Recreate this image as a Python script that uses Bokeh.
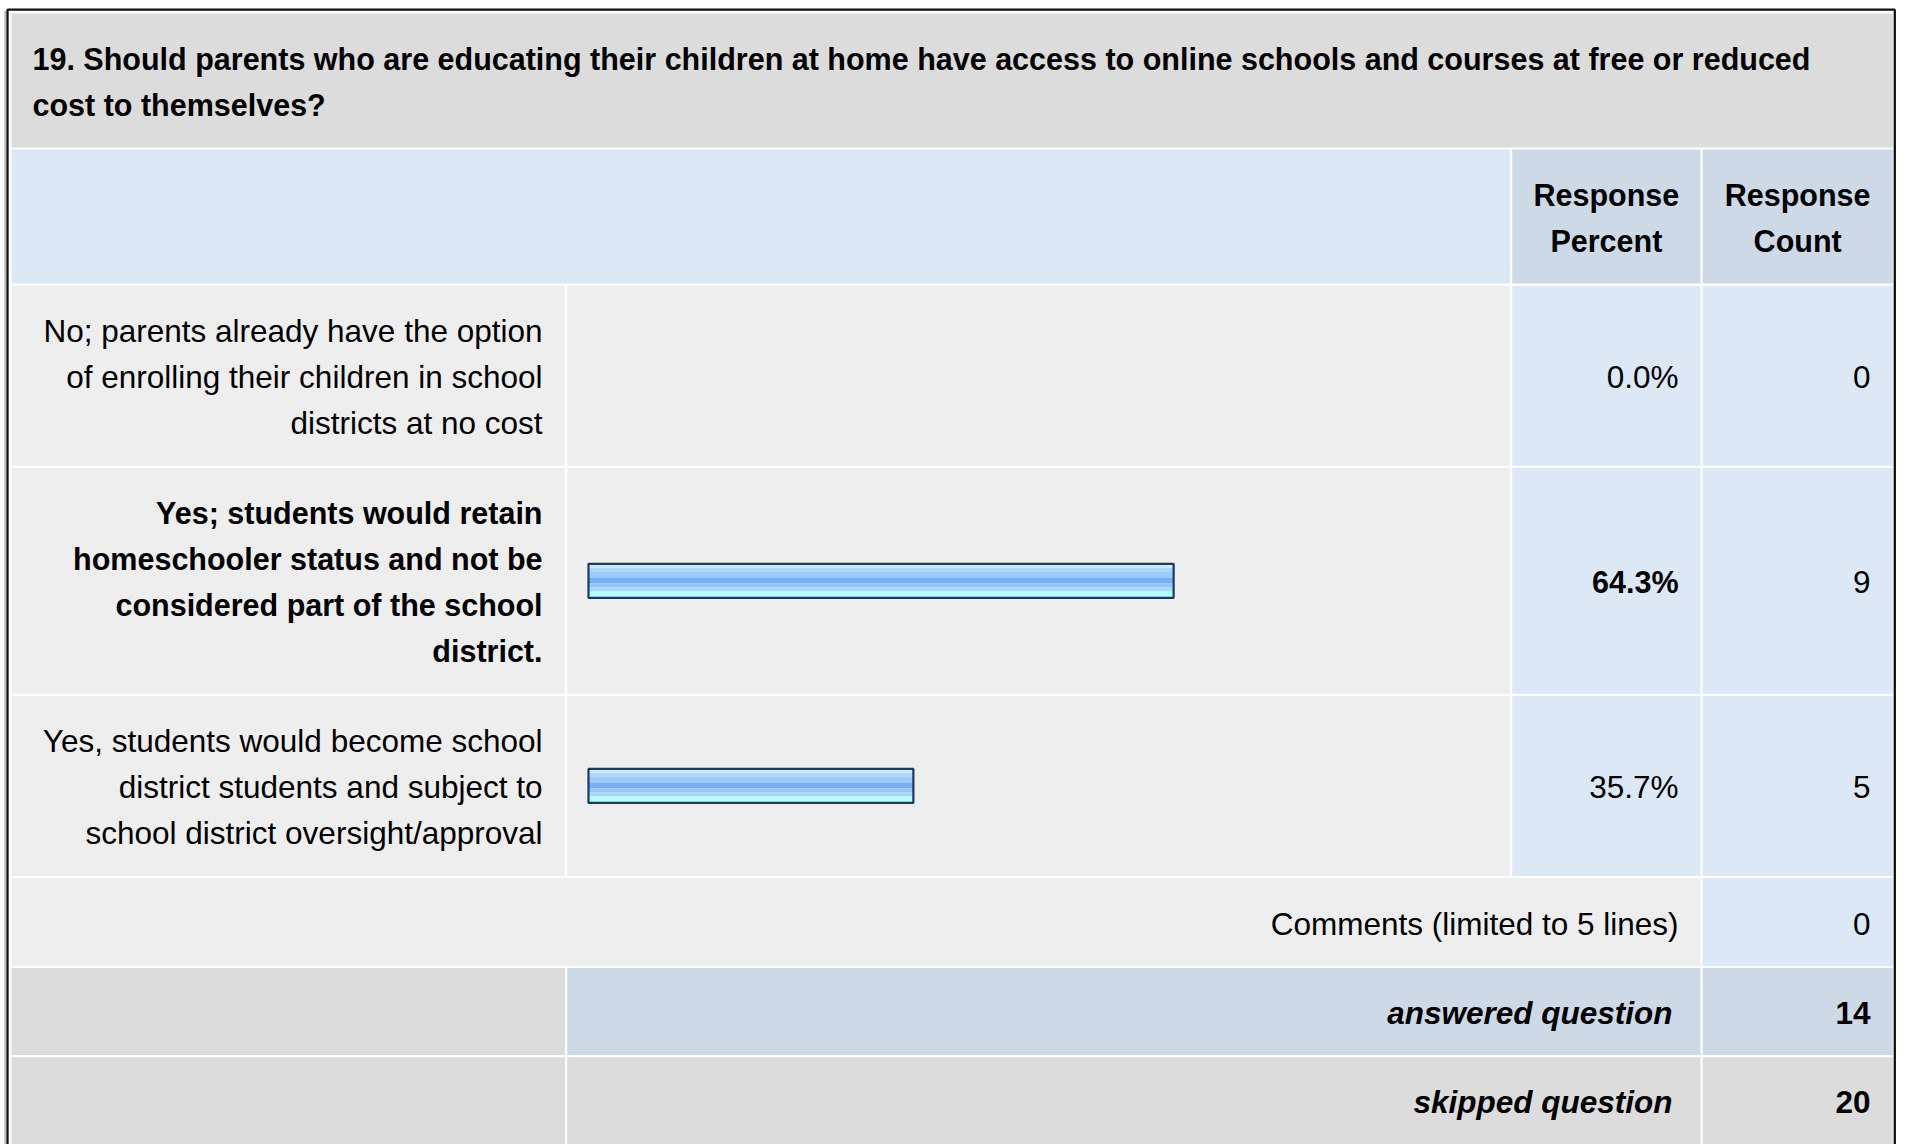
from bokeh.plotting import figure
from bokeh.models import Range1d, ColumnDataSource
from bokeh.core.properties import value
from bokeh.embed import file_html
from bokeh.resources import INLINE

# ---------------- data ----------------
question_lines = [
    "19. Should parents who are educating their children at home have access to online schools and courses at free or reduced",
    "cost to themselves?",
]
header_percent = ["Response", "Percent"]
header_count = ["Response", "Count"]
answer_choices = [
    ["No; parents already have the option", "of enrolling their children in school", "districts at no cost"],
    ["Yes; students would retain", "homeschooler status and not be", "considered part of the school", "district."],
    ["Yes, students would become school", "district students and subject to", "school district oversight/approval"],
]
response_percent = [0.0, 64.3, 35.7]
response_count = [0, 9, 5]
comments_label = "Comments (limited to 5 lines)"
comments_count = 0
answered_label = "answered question"
answered_count = 14
skipped_label = "skipped question"
skipped_count = 20

# ---------------- layout ----------------
W, H = 1907, 1144
X0, Y0 = 0, 0
FONT = "Liberation Sans"
FS = "31.5px"
FSB = "30.5px"
LINE = 46
PAD = 42
GAP = 2.1
TXT_DY = 1.5

C_TITLE = "#dcdcdc"
C_HEAD = "#dce8f5"
C_HEAD2 = "#cdd9e6"
C_ROW = "#eeeeee"
C_GRAY = "#dcdcdc"

LBL = (11, 564.6)
BAR = (LBL[1] + GAP, 1509.6)
PCT = (BAR[1] + GAP, 1700.0)
CNT = (PCT[1] + GAP, 1892.2)
FULL_L, FULL_R = LBL[0], CNT[1]

p = figure(width=W, height=H, x_range=Range1d(X0, X0 + W), y_range=Range1d(Y0 + H, Y0),
           output_backend="svg", toolbar_location=None, min_border=0,
           x_axis_location=None, y_axis_location=None)
p.grid.visible = False
p.outline_line_color = None
p.background_fill_color = "white"
p.border_fill_color = "white"

# percent scale for the bars: 0 % at bar origin, 100 % at BAR_ORIGIN + BAR_FULL px
BAR_ORIGIN = 588.0
BAR_FULL = 910.0
p.extra_x_ranges = {"pct": Range1d((X0 - BAR_ORIGIN) / BAR_FULL * 100.0,
                                   (X0 + W - BAR_ORIGIN) / BAR_FULL * 100.0)}

cells = dict(left=[], right=[], top=[], bottom=[], color=[])


def cell(x, y, c):
    cells["left"].append(x[0]); cells["right"].append(x[1])
    cells["top"].append(y[0]); cells["bottom"].append(y[1])
    cells["color"].append(c)


texts = dict(x=[], y=[], text=[], align=[], style=[], size=[])


def txt(x, y, s, align="left", style="normal", size=FS):
    texts["x"].append(x); texts["y"].append(y); texts["text"].append(s)
    texts["align"].append(align); texts["style"].append(style); texts["size"].append(size)


# title band
y = 13.0
title_h = len(question_lines) * LINE + PAD
TITLE = (y, y + title_h)
cell((FULL_L, FULL_R), TITLE, C_TITLE)
cy = (TITLE[0] + TITLE[1]) / 2 + TXT_DY
for i, s in enumerate(question_lines):
    txt(32, cy + (i - (len(question_lines) - 1) / 2) * LINE, s, "left", "bold", FSB)

# header band
y = TITLE[1] + GAP
HEAD = (y, y + 2 * LINE + PAD)
cell((FULL_L, BAR[1]), HEAD, C_HEAD)
cell(PCT, HEAD, C_HEAD2)
cell(CNT, HEAD, C_HEAD2)
cy = (HEAD[0] + HEAD[1]) / 2 + TXT_DY
for col, lines in ((PCT, header_percent), (CNT, header_count)):
    for i, s in enumerate(lines):
        txt((col[0] + col[1]) / 2, cy + (i - 0.5) * LINE, s, "center", "bold", FSB)

# answer rows
y = HEAD[1] + GAP
best = max(response_percent)
bar_rows = dict(pct=[], cy=[])
for lines, pc, cnt in zip(answer_choices, response_percent, response_count):
    R = (y, y + len(lines) * LINE + PAD)
    cell(LBL, R, C_ROW)
    cell(BAR, R, C_ROW)
    cell(PCT, R, C_HEAD)
    cell(CNT, R, C_HEAD)
    mid = (R[0] + R[1]) / 2
    cy = mid + TXT_DY
    st = "bold" if pc == best else "normal"
    for i, s in enumerate(lines):
        txt(542, cy + (i - (len(lines) - 1) / 2) * LINE, s, "right", st, FSB if st == "bold" else FS)
    txt(1678, cy, f"{pc:.1f}%", "right", st, FSB if st == "bold" else FS)
    txt(1870, cy, str(cnt), "right", "normal", FS)
    if pc > 0:
        bar_rows["pct"].append(pc)
        bar_rows["cy"].append(mid)
    y = R[1] + GAP

# comments row
COM = (y, y + LINE + PAD)
cell((FULL_L, PCT[1]), COM, C_ROW)
cell(CNT, COM, C_HEAD)
cy = (COM[0] + COM[1]) / 2 + TXT_DY
txt(1678, cy, comments_label, "right")
txt(1870, cy, str(comments_count), "right")
y = COM[1] + GAP

# answered row
ANS = (y, y + LINE + PAD - 1)
cell(LBL, ANS, C_GRAY)
cell((BAR[0], PCT[1]), ANS, C_HEAD2)
cell(CNT, ANS, C_HEAD2)
cy = (ANS[0] + ANS[1]) / 2 + TXT_DY
txt(1672, cy, answered_label, "right", "bold italic", FS)
txt(1870, cy, str(answered_count), "right", "bold", FS)
y = ANS[1] + GAP

# skipped row
SKP = (y, y + LINE + PAD - 1)
cell(LBL, SKP, C_GRAY)
cell((BAR[0], PCT[1]), SKP, C_GRAY)
cell(CNT, SKP, C_GRAY)
cy = (SKP[0] + SKP[1]) / 2 + TXT_DY
txt(1672, cy, skipped_label, "right", "bold italic", FS)
txt(1870, cy, str(skipped_count), "right", "bold", FS)

p.quad(left="left", right="right", top="top", bottom="bottom", fill_color="color",
       line_color=None, source=ColumnDataSource(cells))

# outer frame (with a faint shadow on the left)
p.segment(x0=[4.6], x1=[4.6], y0=[10], y1=[1200], line_color="#9a9a9a", line_width=1.2)
p.quad(left=[7], right=[1894.3], top=[9.2], bottom=[1200], fill_color=None,
       line_color="#111111", line_width=2.3)

# bars (glossy stripes) drawn on the percent scale
BAR_H = 36.0
stripes = [(2.0, 5.3, "#cde8ff"), (5.3, 8.7, "#acd6ff"), (8.7, 14.7, "#9ccbff"),
           (14.7, 20.7, "#78aff3"), (20.7, 24.7, "#93c6ff"), (24.7, 28.7, "#a6d9ff"),
           (28.7, 34.0, "#b3ffff")]
for t0, t1, col in stripes:
    p.quad(left=[0] * len(bar_rows["pct"]), right=bar_rows["pct"],
           top=[c - BAR_H / 2 + t0 for c in bar_rows["cy"]],
           bottom=[c - BAR_H / 2 + t1 for c in bar_rows["cy"]],
           fill_color=col, line_color=None, x_range_name="pct")
p.quad(left=[0] * len(bar_rows["pct"]), right=bar_rows["pct"],
       top=[c - BAR_H / 2 + 1 for c in bar_rows["cy"]],
       bottom=[c + BAR_H / 2 - 1 for c in bar_rows["cy"]],
       fill_color=None, line_color="#1d3960", line_width=2.2, x_range_name="pct")

# texts
for align in ("left", "center", "right"):
    for style in ("normal", "bold", "italic", "bold italic"):
        idx = [i for i in range(len(texts["x"])) if texts["align"][i] == align and texts["style"][i] == style]
        if not idx:
            continue
        src = ColumnDataSource({k: [texts[k][i] for i in idx] for k in ("x", "y", "text", "size")})
        p.text(x="x", y="y", text="text", source=src, text_font=value(FONT),
               text_font_size="size", text_font_style=style, text_align=align,
               text_baseline="middle", text_color="#000000")

open("out.html", "w").write(file_html(p, INLINE))
